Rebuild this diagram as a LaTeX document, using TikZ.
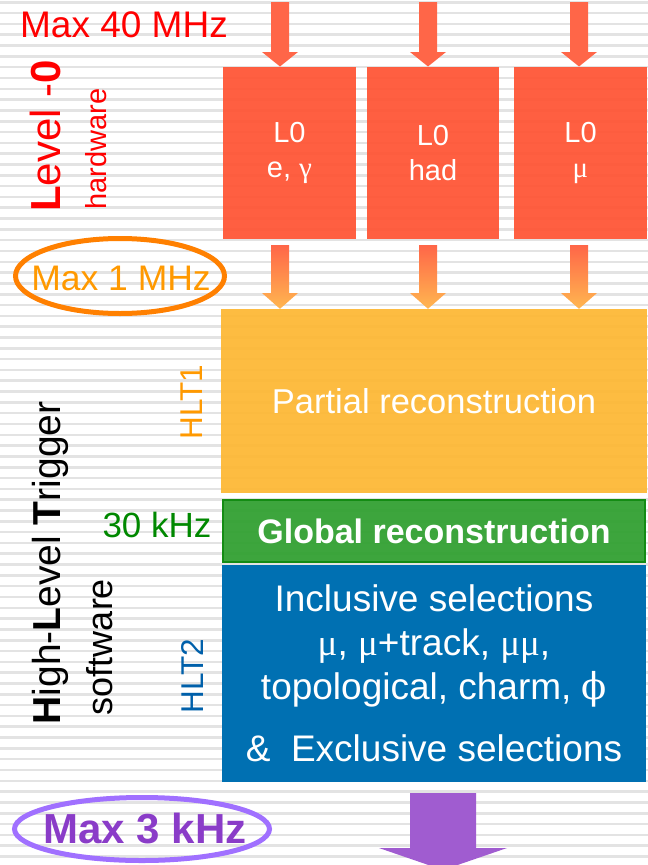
\documentclass[tikz,border=0pt]{standalone}
\usepackage{fontspec}
\setmainfont{Liberation Sans}
\newfontfamily\greekfont{Liberation Serif}
\newfontfamily\phifont{DejaVu Serif}
\usetikzlibrary{positioning}

\definecolor{lzerored}{RGB}{255,83,51}
\definecolor{feedred}{RGB}{255,102,72}
\definecolor{feedorange}{RGB}{255,183,80}
\definecolor{hltorange}{RGB}{253,183,51}
\definecolor{rateorange}{RGB}{255,128,0}
\definecolor{textorange}{RGB}{255,153,0}
\definecolor{globgreen}{RGB}{51,161,51}
\definecolor{globedge}{RGB}{20,140,20}
\definecolor{rategreen}{RGB}{0,136,0}
\definecolor{hltblue}{RGB}{0,112,178}
\definecolor{labelblue}{RGB}{0,96,170}
\definecolor{ratepurple}{RGB}{160,112,255}
\definecolor{outpurple}{RGB}{138,60,200}
\definecolor{arrowpurple}{RGB}{160,92,208}

\newcommand{\gk}[1]{{\greekfont #1}}

\tikzset{
    stripe/.style={fill=gray!22},
    lzero/.style={fill=lzerored, fill opacity=0.93, text opacity=1, text=white,
        minimum width=133pt, minimum height=172pt, inner sep=0pt, align=center,
        font=\fontsize{29}{35}\selectfont},
    stage/.style={minimum width=426pt, inner sep=0pt, align=center, text=white},
    side/.style={rotate=90, inner sep=0pt},
    plain/.style={inner sep=0pt},
}

\begin{document}
\begin{tikzpicture}[x=1pt,y=-1pt]
    \useasboundingbox (0,0) rectangle (648,865);
    \fill[white] (0,0) rectangle (648,865);
    % ruled background
    \foreach \i in {0,...,79}
        \fill[stripe] (0,{1+\i*10.8125}) rectangle ++(648,2.6);

    % level-0 boxes
    \node[lzero] (ecal) at (289.5,152.7) {L0\\e, \gk{γ}};
    \node[lzero, minimum width=131.7pt] (had) at (433,152.7) {L0\\had};
    \node[lzero] (mu) at (580.5,152.7) {L0\\\gk{μ}};

    % HLT stages
    \node[stage, fill=hltorange, fill opacity=0.93, text opacity=1, minimum height=184pt,
        font=\fontsize{34.5}{40}\selectfont] (hltone) at (434,401) {Partial reconstruction};
    \node[stage, fill=globgreen, fill opacity=0.95, text opacity=1, draw=globedge, line width=2pt,
        minimum width=422pt, minimum height=62pt,
        font=\bfseries\fontsize{34}{40}\selectfont] (glob) at (434,531) {Global reconstruction};
    \node[stage, fill=hltblue, minimum width=424pt, minimum height=217pt,
        font=\fontsize{37}{44}\selectfont] (hlttwo) at (434,673.5)
        {Inclusive selections\\ \gk{μ}, \gk{μ}+track, \gk{μμ},\\
         topological, charm, {\phifont ϕ}\hspace*{25pt}\\[18pt] \&\ \ Exclusive selections};

    % input arrows
    \foreach \x/\b in {280/ecal,428/had,579/mu}
        \fill[feedred] (\x-9,2) -- (\x+9,2) -- (\x+9,52) -- (\x+18,52)
            -- (\x,0 |- \b.north) -- (\x-18,52) -- (\x-9,52) -- cycle;
    % L0 -> HLT1
    \foreach \x in {280,428,579}
        \shade[top color=feedred, bottom color=feedorange] (\x-9,245) -- (\x+9,245)
            -- (\x+9,293) -- (\x+18,293) -- (\x,0 |- hltone.north)
            -- (\x-18,293) -- (\x-9,293) -- cycle;
    % output
    \fill[arrowpurple] (410,793) -- (476,793) -- (476,848) -- (507,848)
        -- (443,870) -- (379,848) -- (410,848) -- cycle;

    % rates and side labels
    \node[plain, text=red, font=\fontsize{37}{40}\selectfont] (inrate) at (124,25) {Max 40 MHz};
    \node[side, text=red, font=\fontsize{42}{46}\selectfont] (lzlabel) at (45,136)
        {\textbf{L}evel -\textbf{0}};
    \node[side, text=red, font=\fontsize{29}{32}\selectfont] (hwlabel) at (96,149) {hardware};

    \node[plain, text=textorange, font=\fontsize{35.5}{40}\selectfont] (lzrate) at (121,278) {Max 1 MHz};
    \draw[rateorange, line width=5pt] (120,276) ellipse [x radius=104.5pt, y radius=37.5pt];

    \node[side, text=textorange, font=\fontsize{31.5}{34}\selectfont] (hltonelabel) at (192,402) {HLT1};
    \node[plain, text=rategreen, font=\fontsize{35}{40}\selectfont] (globrate) at (157,525) {30 kHz};
    \node[side, font=\fontsize{39}{44}\selectfont] (hltlabel) at (50,563)
        {\textbf{H}igh-\textbf{L}evel \textbf{T}rigger};
    \node[side, font=\fontsize{36}{40}\selectfont] (swlabel) at (100,647) {software};
    \node[side, text=labelblue, font=\fontsize{31.5}{34}\selectfont] (hlttwolabel) at (192,676) {HLT2};

    \node[plain, text=outpurple, font=\bfseries\fontsize{42}{48}\selectfont] (outrate) at (145,829) {Max 3 kHz};
    \draw[ratepurple, line width=5pt] (142,829) ellipse [x radius=127.5pt, y radius=31.5pt];
\end{tikzpicture}
\end{document}
